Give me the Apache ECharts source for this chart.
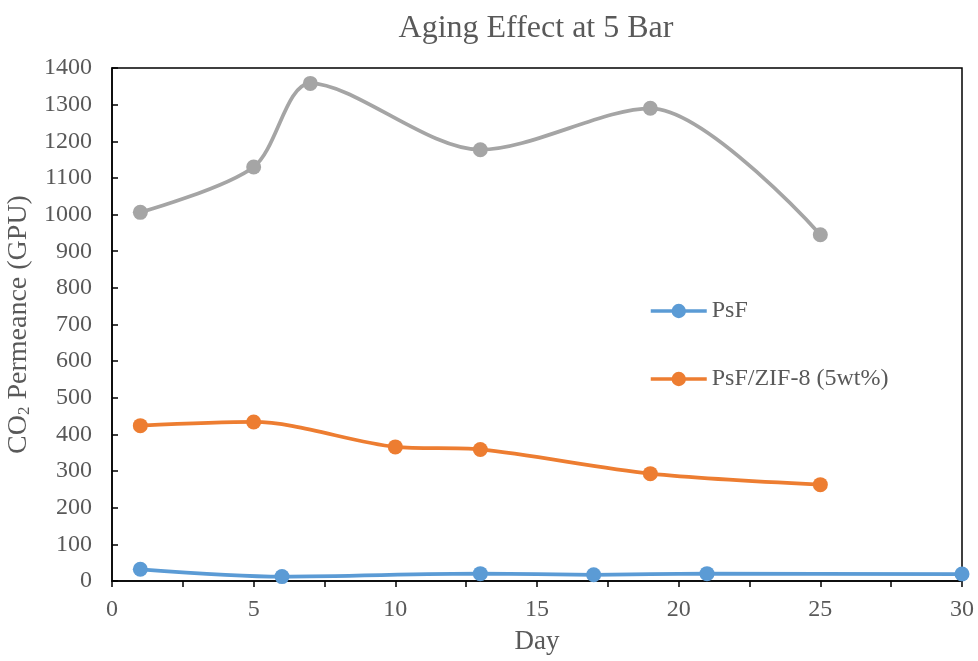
<!DOCTYPE html>
<html>
<head>
<meta charset="utf-8">
<script src="https://cdn.jsdelivr.net/npm/echarts@6/dist/echarts.min.js"></script>
<style>html,body{margin:0;padding:0;background:#fff}#c{width:978px;height:661px}</style>
</head>
<body>
<div id="c"></div>
<script>
const titleText = 'Aging Effect at 5 Bar';
const xTicks = [0, 5, 10, 15, 20, 25, 30];
const psfDays = [1, 6, 13, 17, 21, 30];
const psfValues = [32, 12, 20, 17, 20, 19];
const zifDays = [1, 5, 10, 13, 19, 25];
const zifValues = [424, 434, 366, 359, 293, 263];
const grayDays = [1, 5, 7, 13, 19, 25];
const grayValues = [1006, 1130, 1358, 1177, 1290, 945];

const font = 'Liberation Serif, Times New Roman, serif';
const txt = '#595959';
const pair = (xs, ys) => xs.map((x, i) => [x, ys[i]]);

const chart = echarts.init(document.getElementById('c'));
chart.setOption({
  animation: false,
  title: { text: titleText, left: 531, textAlign: 'center', top: 8,
    textStyle: { fontFamily: font, fontSize: 32, fontWeight: 'normal', color: txt } },
  grid: { left: 112, right: 16, top: 68, bottom: 80, outerBoundsMode: 'none', containLabel: false,
    show: true, borderColor: '#000', borderWidth: 1.5 },
  legend: {
    data: ['PsF', 'PsF/ZIF-8 (5wt%)'], orient: 'vertical', left: 644, top: 294,
    itemGap: 44, itemWidth: 56, itemHeight: 18,
    lineStyle: { width: 3.5 },
    textStyle: { fontFamily: font, fontSize: 24, color: txt }
  },
  xAxis: {
    type: 'value', min: 0, max: 30, interval: 5,
    name: 'Day', nameLocation: 'middle', nameGap: 47,
    nameTextStyle: { fontFamily: font, fontSize: 27, color: txt },
    axisLine: { lineStyle: { color: '#000', width: 1.5 } },
    axisTick: { show: true, length: 6, lineStyle: { color: '#000', width: 1.5 } },
    minorTick: { show: true, splitNumber: 2, length: 6, lineStyle: { color: '#000', width: 1.5 } },
    splitLine: { show: false },
    axisLabel: { fontFamily: font, fontSize: 24, color: txt, margin: 17,
      formatter: v => xTicks.includes(v) ? String(v) : '' }
  },
  yAxis: {
    type: 'value', min: 0, max: 1400, interval: 100,
    name: '{a|CO}{s|2}{a| Permeance (GPU)}', nameLocation: 'middle', nameGap: 78,
    nameTextStyle: { rich: {
      a: { fontFamily: font, fontSize: 28, color: txt },
      s: { fontFamily: font, fontSize: 17, color: txt, verticalAlign: 'bottom', padding: [12, 0, 0, 0] }
    } },
    axisLine: { show: true, lineStyle: { color: '#000', width: 1.5 } },
    axisTick: { show: true, inside: true, length: 6, lineStyle: { color: '#000', width: 1.5 } },
    splitLine: { show: false },
    axisLabel: { fontFamily: font, fontSize: 24, color: txt, margin: 20, formatter: v => String(v) }
  },
  series: [
    { name: 'PsF', type: 'line', data: pair(psfDays, psfValues), smooth: 0.3,
      symbol: 'circle', symbolSize: 15, color: '#5B9BD5', lineStyle: { width: 3.75 } },
    { name: 'PsF/ZIF-8 (5wt%)', type: 'line', data: pair(zifDays, zifValues), smooth: 0.3,
      symbol: 'circle', symbolSize: 15, color: '#ED7D31', lineStyle: { width: 3.75 } },
    { name: 'Aged', type: 'line', data: pair(grayDays, grayValues), smooth: 0.3,
      symbol: 'circle', symbolSize: 15, color: '#A5A5A5', lineStyle: { width: 3.75 } }
  ]
});
</script>
</body>
</html>
